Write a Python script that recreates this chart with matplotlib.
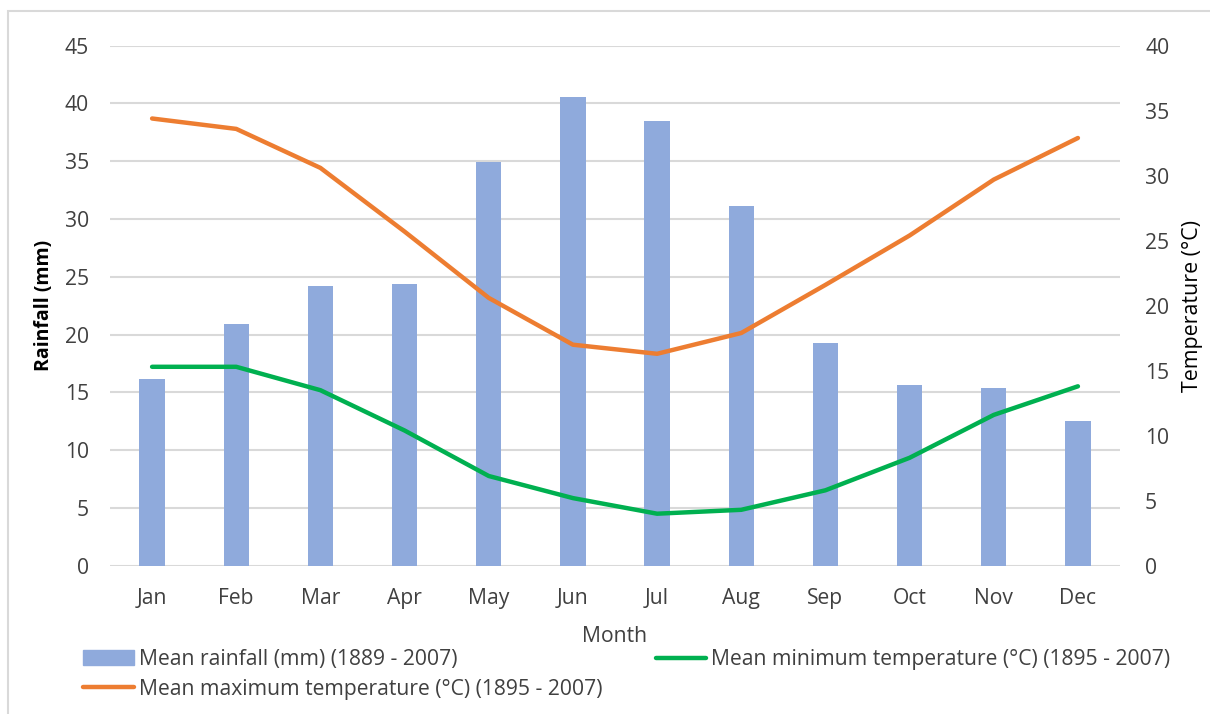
import matplotlib.pyplot as plt
import numpy as np
from matplotlib.patches import Rectangle
from matplotlib.lines import Line2D

months = ["Jan", "Feb", "Mar", "Apr", "May", "Jun", "Jul", "Aug", "Sep", "Oct", "Nov", "Dec"]
rainfall = [16.2, 20.9, 24.2, 24.4, 34.9, 40.6, 38.5, 31.1, 19.3, 15.6, 15.4, 12.5]
max_temp = [34.4, 33.6, 30.6, 25.7, 20.6, 17.0, 16.3, 17.9, 21.6, 25.4, 29.7, 32.9]
min_temp = [15.3, 15.3, 13.5, 10.4, 6.9, 5.2, 4.0, 4.3, 5.8, 8.3, 11.6, 13.8]

rain_label = "Mean rainfall (mm) (1889 - 2007)"
max_label = "Mean maximum temperature (°C) (1895 - 2007)"
min_label = "Mean minimum temperature (°C) (1895 - 2007)"

plt.rcParams["font.family"] = ["Open Sans", "DejaVu Sans"]
text_color = "#404040"
grid_color = "#d9d9d9"
fs = 15.2

W, H = 1210, 714
fig = plt.figure(figsize=(W / 100, H / 100), dpi=100)

# outer chart border
fig.patches.append(Rectangle((8 / W, -0.01), 1.05, 1 - 11 / H + 0.01, transform=fig.transFigure,
                             fill=False, edgecolor=grid_color, linewidth=1.5))

ax = fig.add_axes([110 / W, 1 - 565.7 / H, (1120 - 110) / W, 520 / H])
x = np.arange(len(months))
ax.bar(x, rainfall, width=0.30, color="#8FAADC", zorder=2)
ax.set_xlim(-0.5, len(months) - 0.5)
ax.set_ylim(0, 45)
ax.set_yticks(np.arange(0, 46, 5))
ax.set_xticks(x)
ax.set_xticklabels(months)
ax.yaxis.grid(True, color=grid_color, linewidth=1.5, zorder=0)
ax.set_axisbelow(True)
for s in ax.spines.values():
    s.set_visible(False)
ax.tick_params(length=0, labelsize=fs, colors=text_color, pad=15)
ax.tick_params(axis="x", pad=16)
ax.set_ylabel("Rainfall (mm)", fontsize=14, fontweight="bold", color="black", labelpad=8)
ax.set_xlabel("Month", fontsize=fs, color=text_color, labelpad=12)

ax2 = ax.twinx()
ax2.plot(x, max_temp, color="#ED7D31", linewidth=3.2, solid_capstyle="round", zorder=3)
ax2.plot(x, min_temp, color="#00B050", linewidth=3.2, solid_capstyle="round", zorder=3)
ax2.set_ylim(0, 40)
ax2.set_yticks(np.arange(0, 41, 5))
for s in ax2.spines.values():
    s.set_visible(False)
ax2.tick_params(length=0, labelsize=fs, colors=text_color, pad=18)
ax2.set_ylabel("Temperature (°C)", fontsize=15.4, color="black", labelpad=9)

handles = [
    Rectangle((0, 0), 1, 1, color="#8FAADC"),
    Line2D([], [], color="#ED7D31", linewidth=3.2, solid_capstyle="round"),
    Line2D([], [], color="#00B050", linewidth=3.2, solid_capstyle="round"),
]
fig.legend(handles, [rain_label, max_label, min_label], ncol=2, loc="upper left",
           bbox_to_anchor=(83 / W, 1 - 649 / H), frameon=False, fontsize=fs,
           labelcolor=text_color, handlelength=2.4, handletextpad=0.24,
           columnspacing=2.53, labelspacing=0.42, borderaxespad=0, borderpad=0)

fig.savefig("out.png", dpi=100)
